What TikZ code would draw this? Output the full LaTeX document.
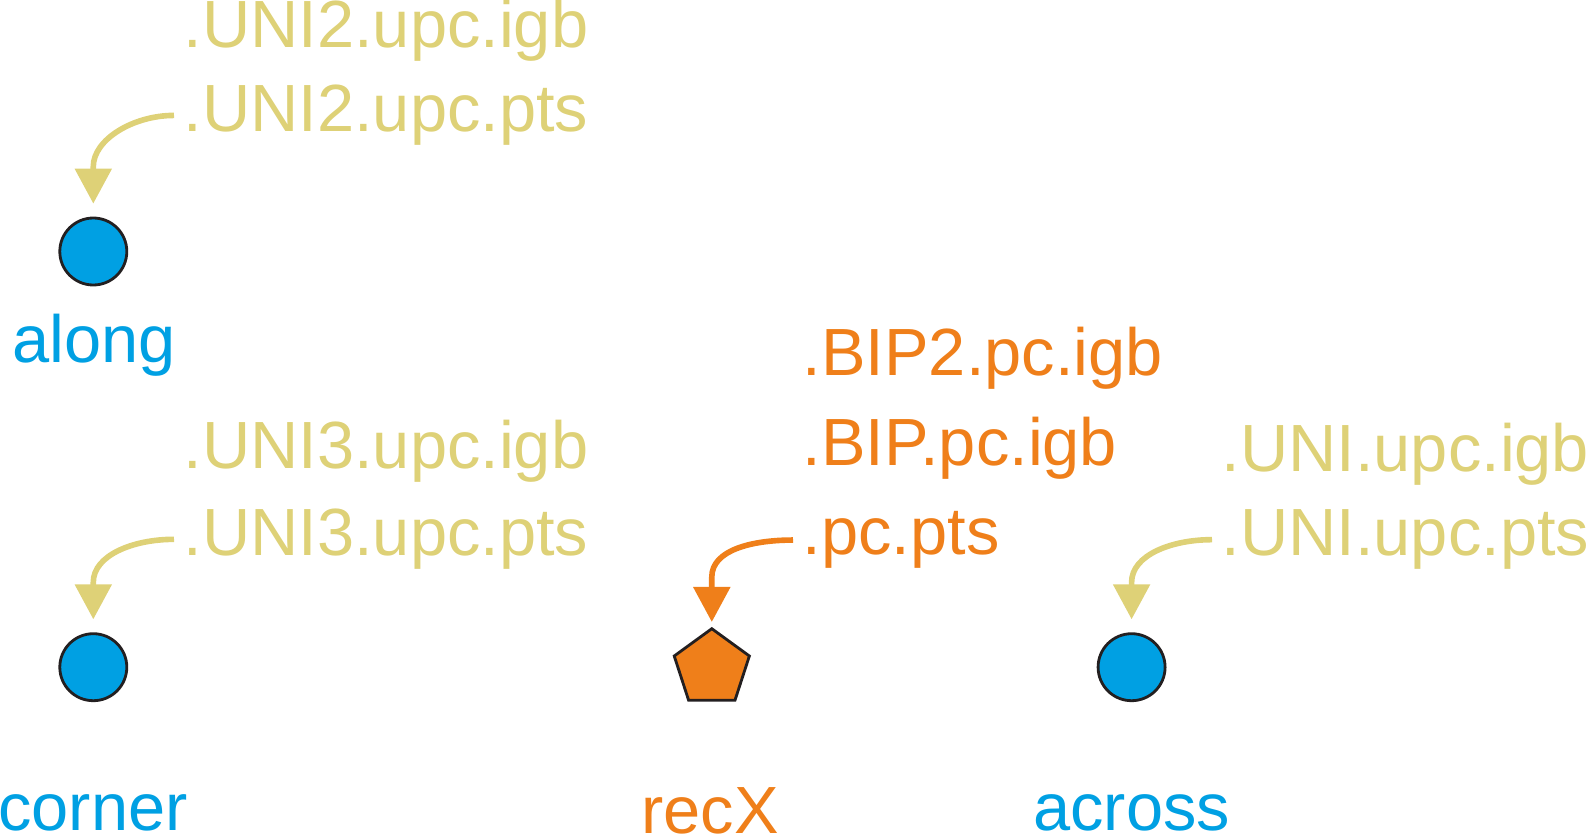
\documentclass[tikz,border=0pt]{standalone}
\usepackage{fontspec}
\setmainfont{Liberation Sans}
\usetikzlibrary{arrows.meta, shapes.geometric}
\definecolor{pointblue}{RGB}{0,160,227}
\definecolor{recorange}{RGB}{239,127,26}
\definecolor{filekhaki}{RGB}{222,209,119}
\definecolor{edgegray}{RGB}{35,31,32}

\begin{document}
\begin{tikzpicture}[
    every node/.style={font=\fontsize{19}{23}\selectfont},
    file/.style={anchor=base west, inner sep=0pt},
    pointnode/.style={circle, draw=edgegray, line width=0.8pt, fill=pointblue, minimum size=6.7mm, inner sep=0pt},
    recnode/.style={regular polygon, regular polygon sides=5, draw=edgegray, line width=0.8pt, fill=recorange, minimum size=7.9mm, inner sep=0pt},
    tag/.style={anchor=base, inner sep=0pt},
    link/.style={line width=1.6pt, -{Triangle[length=3.5mm,width=3.6mm]}, shorten <=0.9mm, shorten >=1.3mm}
]
    \useasboundingbox (0,0) rectangle (15.9,8.39);
    % along
    \node[file, text=filekhaki] (uni2igb) at (1.83,7.913) {.UNI2.upc.igb};
    \node[file, text=filekhaki] (uni2pts) at (1.83,7.072) {.UNI2.upc.pts};
    \node[pointnode] (along) at (0.933,5.875) {};
    \node[tag, text=pointblue] (alongtxt) at (0.94,4.77) {along};
    \draw[link, filekhaki] (uni2pts.west) .. controls +(180:0.5) and +(90:0.27) .. ([yshift=5mm]along.north) -- (along.north);
    % corner
    \node[file, text=filekhaki] (uni3igb) at (1.83,3.705) {.UNI3.upc.igb};
    \node[file, text=filekhaki] (uni3pts) at (1.83,2.833) {.UNI3.upc.pts};
    \node[pointnode] (corner) at (0.933,1.718) {};
    \node[tag, text=pointblue] (cornertxt) at (0.93,0.09) {corner};
    \draw[link, filekhaki] (uni3pts.west) .. controls +(180:0.5) and +(90:0.27) .. ([yshift=5mm]corner.north) -- (corner.north);
    % recX
    \node[file, text=recorange] (bip2igb) at (8.02,4.638) {.BIP2.pc.igb};
    \node[file, text=recorange] (bipigb) at (8.02,3.736) {.BIP.pc.igb};
    \node[file, text=recorange] (pcpts) at (8.02,2.843) {.pc.pts};
    \node[recnode] (recx) at (7.118,1.708) {};
    \node[tag, text=recorange] (recxtxt) at (7.10,0.055) {recX};
    \draw[link, recorange, shorten >=0.5mm] (pcpts.west) .. controls +(180:0.5) and +(90:0.27) .. ([yshift=5mm]recx.north) -- (recx.north);
    % across
    \node[file, text=filekhaki] (uniigb) at (12.21,3.675) {.UNI.upc.igb};
    \node[file, text=filekhaki] (unipts) at (12.21,2.833) {.UNI.upc.pts};
    \node[pointnode] (across) at (11.316,1.718) {};
    \node[tag, text=pointblue] (acrosstxt) at (11.316,0.09) {across};
    \draw[link, filekhaki] (unipts.west) .. controls +(180:0.5) and +(90:0.27) .. ([yshift=5mm]across.north) -- (across.north);
\end{tikzpicture}
\end{document}
